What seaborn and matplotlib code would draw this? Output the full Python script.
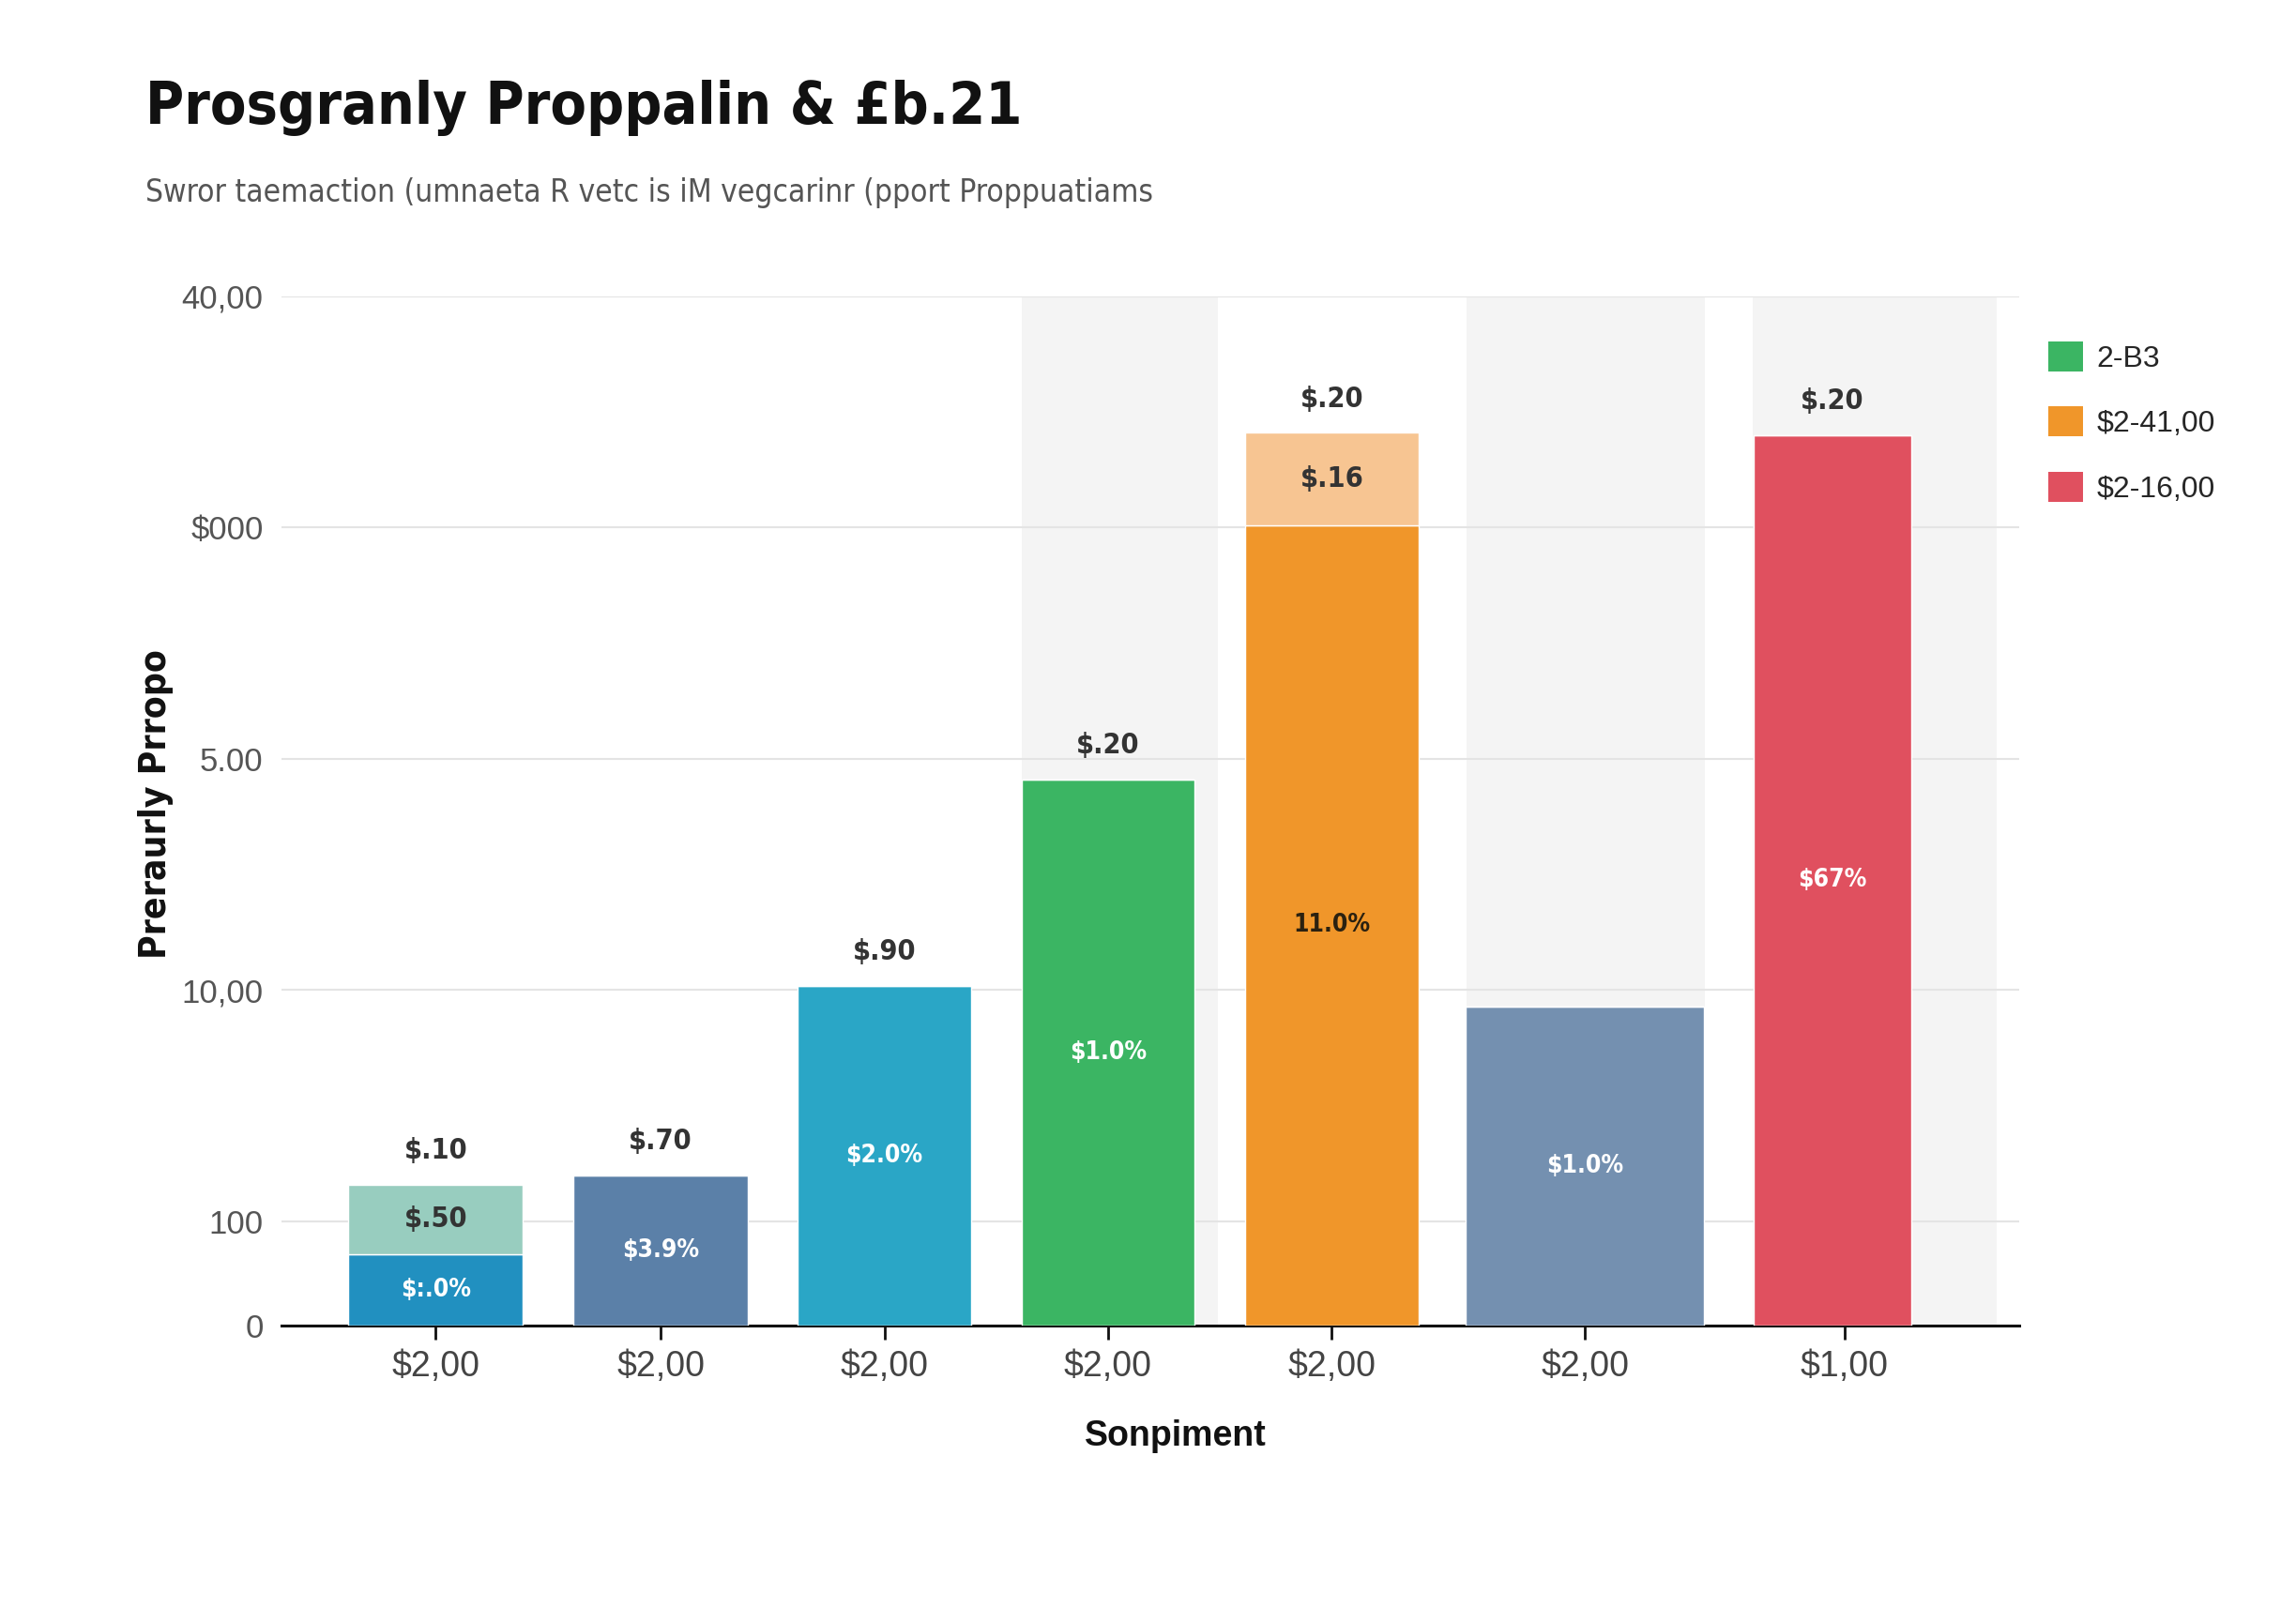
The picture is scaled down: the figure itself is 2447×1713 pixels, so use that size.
"""Bar chart with stacked caps, shaded bands and a side legend."""
import matplotlib
matplotlib.use('Agg')
import matplotlib.pyplot as plt
from matplotlib.patches import Patch
import seaborn as sns
import pandas as pd

# data
segments = ['S1', 'S2', 'S3', 'S4', 'S5', 'S6', 'S7']
tick_labels = ['$2,00', '$2,00', '$2,00', '$2,00', '$2,00', '$2,00', '$1,00']
base_values = [3.1, 6.5, 14.7, 23.6, 34.6, 13.8, 38.5]
cap_values = [3.0, 0, 0, 0, 4.0, 0, 0]
top_labels = ['$.10', '$.70', '$.90', '$.20', '$.20', '', '$.20']
inner_labels = ['$:.0%', '$3.9%', '$2.0%', '$1.0%', '11.0%', '$1.0%', '$67%']
cap_labels = ['$.50', '', '', '', '$.16', '', '']
ytick_values = [0, 4.5, 14.5, 24.5, 34.5, 44.5]
ytick_labels = ['0', '100', '10,00', '5.00', '$000', '40,00']
legend_labels = ['2-B3', '$2-41,00', '$2-16,00']

# styles
base_colors = ['#2190c0', '#5b80a8', '#2aa6c6', '#3bb563', '#f0962a', '#7490b0', '#e0505f']
cap_colors = ['#98cdbf', 'none', 'none', 'none', '#f7c592', 'none', 'none']
inner_colors = ['white', 'white', 'white', 'white', '#2b2110', 'white', 'white']
legend_colors = ['#3bb563', '#f0962a', '#e0505f']

# layout (reference pixel units along x)
bar_x = [294, 446, 597, 748, 899, 1070, 1237]
bar_w = [118, 118, 117, 117, 117, 161, 107]
tick_x = [294, 446, 597, 748, 899, 1070, 1245]
bands = [(690, 822), (990, 1151), (1183, 1348)]

sns.set_theme(style='white')
plt.rcParams['font.family'] = ['Liberation Sans', 'DejaVu Sans']
plt.rcParams['text.parse_math'] = False
cond = dict(family=['DejaVu Sans'], fontstretch='condensed')

fig = plt.figure(figsize=(24.47, 17.13), dpi=100)
ax = fig.add_axes([0.1226, 0.1751, 0.7568, 0.6406])

df = pd.DataFrame({'segment': segments, 'value': base_values})
sns.barplot(data=df, x='segment', y='value', hue='segment', palette=base_colors,
            legend=False, ax=ax, saturation=1, zorder=3)
for p, c, w in zip(ax.patches, bar_x, bar_w):
    p.set_x(c - w / 2)
    p.set_width(w)

ax.bar(bar_x, cap_values, bottom=base_values, width=bar_w, color=cap_colors, zorder=3)

for lo, hi in bands:
    ax.axvspan(lo, hi, color='#f4f4f4', zorder=0.2, lw=0)

for c, b, cp, t, i, cl, ic in zip(bar_x, base_values, cap_values, top_labels,
                                  inner_labels, cap_labels, inner_colors):
    if t:
        ax.annotate(t, (c, b + cp), xytext=(0, 26), textcoords='offset points',
                    ha='center', va='center', fontsize=22, fontweight='bold',
                    color='#333333', zorder=5, **cond)
    ax.text(c, b / 2, i, ha='center', va='center', fontsize=19, fontweight='bold',
            color=ic, zorder=5, **cond)
    if cl:
        ax.text(c, b + cp / 2, cl, ha='center', va='center', fontsize=22,
                fontweight='bold', color='#333333', zorder=5, **cond)

ax.set_xlim(190, 1363)
ax.set_ylim(0, 44.5)
ax.set_xticks(tick_x, tick_labels)
ax.set_yticks(ytick_values, ytick_labels)
ax.set_xlabel('')
ax.set_ylabel('')
ax.grid(axis='y', color='#e4e4e4', lw=1.5)
ax.set_axisbelow(True)
for s in ['top', 'right', 'left']:
    ax.spines[s].set_visible(False)
ax.spines['bottom'].set_color('#111111')
ax.spines['bottom'].set_linewidth(2.2)
ax.tick_params(axis='x', length=11, width=2, color='#111111', pad=8,
               labelsize=27, labelcolor='#444444', bottom=True)
ax.tick_params(axis='y', length=0, pad=14, labelsize=25, labelcolor='#555555')

fig.text(0.0632, 0.9327, 'Prosgranly Proppalin & £b.21', fontsize=45,
         fontweight='bold', color='#111111', va='center', **cond)
fig.text(0.0632, 0.880, 'Swror taemaction (umnaeta R vetc is iM vegcarinr (pport Proppuatiams',
         fontsize=24, color='#555555', va='center', **cond)
fig.text(0.068, 0.4995, 'Preraurly Prropo', rotation=90, fontsize=28,
         fontweight='bold', color='#111111', ha='center', va='center', **cond)
fig.text(0.512, 0.106, 'Sonpiment', fontsize=27, fontweight='bold',
         color='#111111', ha='center', va='center')

handles = [Patch(facecolor=c, edgecolor='none') for c in legend_colors]
fig.legend(handles, legend_labels, loc='upper left', bbox_to_anchor=(0.887, 0.795),
           frameon=False, handlelength=1.15, handleheight=1.15, fontsize=23,
           labelspacing=1.12, handletextpad=0.45, borderaxespad=0)

fig.savefig('out.png', dpi=100)
